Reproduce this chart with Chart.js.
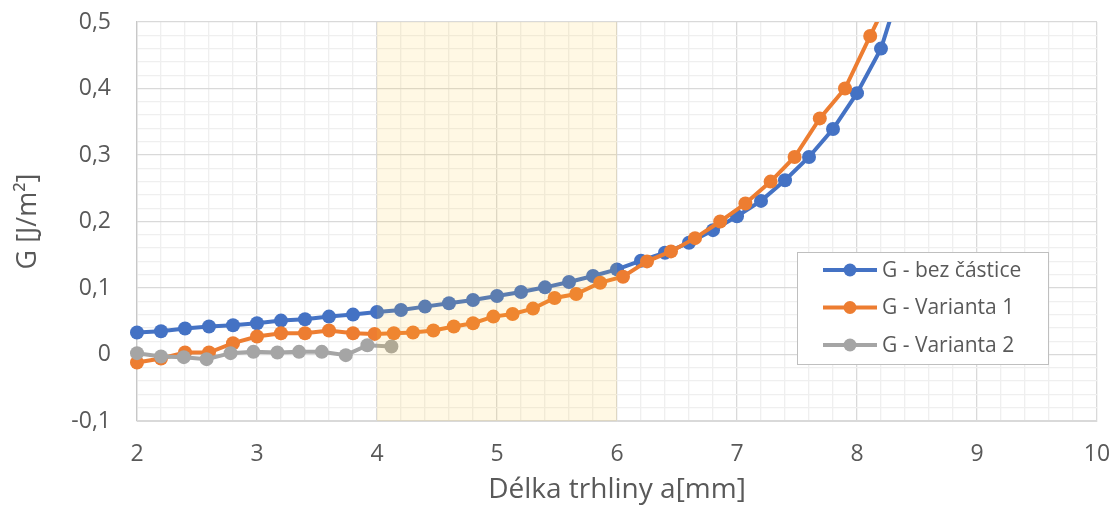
<!DOCTYPE html>
<html>
<head>
<meta charset="utf-8">
<script src="https://cdn.jsdelivr.net/npm/chart.js@4"></script>
<style>
  html, body { margin: 0; padding: 0; background: #ffffff; }
  #wrap { width: 1117px; height: 514px; position: relative; }
</style>
</head>
<body>
<div id="wrap"><canvas id="graf"></canvas></div>
<script>
// délka trhliny a [mm] a hodnoty G [J/m2] pro jednotlivé varianty
const aBezCastice = [2.0, 2.2, 2.4, 2.6, 2.8, 3.0, 3.2, 3.4, 3.6, 3.8, 4.0, 4.2, 4.4, 4.6, 4.8, 5.0,
  5.2, 5.4, 5.6, 5.8, 6.0, 6.2, 6.4, 6.6, 6.8, 7.0, 7.2, 7.4, 7.6, 7.8, 8.0, 8.2, 8.4];
const gBezCastice = [0.033, 0.035, 0.039, 0.042, 0.044, 0.047, 0.051, 0.053, 0.057, 0.060, 0.064,
  0.067, 0.072, 0.077, 0.082, 0.088, 0.094, 0.101, 0.109, 0.118, 0.128, 0.141, 0.153, 0.168, 0.187,
  0.208, 0.231, 0.262, 0.297, 0.339, 0.393, 0.460, 0.575];

const aVarianta1 = [2.0, 2.2, 2.4, 2.6, 2.8, 3.0, 3.2, 3.4, 3.6, 3.8, 3.98, 4.14, 4.3, 4.47, 4.64,
  4.8, 4.97, 5.13, 5.3, 5.48, 5.66, 5.86, 6.05, 6.25, 6.45, 6.65, 6.86, 7.07, 7.28, 7.48, 7.69,
  7.9, 8.11, 8.3];
const gVarianta1 = [-0.012, -0.006, 0.003, 0.003, 0.017, 0.027, 0.032, 0.032, 0.036, 0.032, 0.031,
  0.032, 0.033, 0.036, 0.042, 0.047, 0.057, 0.061, 0.069, 0.085, 0.091, 0.108, 0.117, 0.140, 0.155,
  0.175, 0.200, 0.227, 0.260, 0.297, 0.355, 0.400, 0.479, 0.550];

const aVarianta2 = [2.0, 2.2, 2.39, 2.58, 2.78, 2.97, 3.17, 3.35, 3.54, 3.74, 3.92, 4.12];
const gVarianta2 = [0.002, -0.003, -0.004, -0.007, 0.002, 0.004, 0.003, 0.004, 0.004, -0.001, 0.014, 0.012];

const nazvyRad = ["G - bez částice", "G - Varianta 1", "G - Varianta 2"];
const barvyRad = ["#4472C4", "#ED7D31", "#A5A5A5"];
const pasmo = [4, 6];

const TEXT = "#595959";
const FONT = "'Open Sans', sans-serif";

function body(xs, ys) {
  return xs.map((x, i) => ({ x: x, y: ys[i] }));
}

function celeCislo(v) {
  return Math.abs(v - Math.round(v)) < 1e-6;
}

function desetina(v) {
  return Math.abs(v * 10 - Math.round(v * 10)) < 1e-6;
}

// zvýrazněné pásmo 4–6 mm (poloprůhledné, přes křivky)
const pasmoPlugin = {
  id: "pasmo",
  afterDatasetsDraw(chart) {
    const { ctx, chartArea, scales } = chart;
    const x1 = scales.x.getPixelForValue(pasmo[0]);
    const x2 = scales.x.getPixelForValue(pasmo[1]);
    ctx.save();
    ctx.fillStyle = "rgba(255, 200, 50, 0.13)";
    ctx.fillRect(x1, chartArea.top, x2 - x1, chartArea.bottom - chartArea.top);
    ctx.restore();
  },
};

// legenda uvnitř grafu
const legendaPlugin = {
  id: "legenda",
  afterDraw(chart) {
    const ctx = chart.ctx;
    const left = 797, top = 252, w = 251, h = 112;
    ctx.save();
    ctx.fillStyle = "#ffffff";
    ctx.fillRect(left, top, w, h);
    ctx.strokeStyle = "#bfbfbf";
    ctx.lineWidth = 1;
    ctx.strokeRect(left + 0.5, top + 0.5, w, h);
    ctx.font = "21px " + FONT;
    ctx.textBaseline = "middle";
    ctx.textAlign = "left";
    nazvyRad.forEach((nazev, i) => {
      const y = top + 18 + i * 37.5;
      ctx.strokeStyle = barvyRad[i];
      ctx.lineWidth = 4;
      ctx.beginPath();
      ctx.moveTo(left + 26, y);
      ctx.lineTo(left + 80, y);
      ctx.stroke();
      ctx.fillStyle = barvyRad[i];
      ctx.beginPath();
      ctx.arc(left + 53, y, 6.5, 0, Math.PI * 2);
      ctx.fill();
      ctx.fillStyle = TEXT;
      ctx.fillText(nazev, left + 85, y + 1);
    });
    ctx.restore();
  },
};

function rada(i, xs, ys) {
  return {
    label: nazvyRad[i],
    data: body(xs, ys),
    borderColor: barvyRad[i],
    backgroundColor: barvyRad[i],
    borderWidth: 4,
    pointRadius: 7,
    pointBorderWidth: 0,
    pointHoverRadius: 7,
    tension: 0,
    order: 3 - i,
    clip: { left: 10, right: 10, top: 0, bottom: 10 },
  };
}

new Chart(document.getElementById("graf"), {
  type: "line",
  data: {
    datasets: [
      rada(0, aBezCastice, gBezCastice),
      rada(1, aVarianta1, gVarianta1),
      rada(2, aVarianta2, gVarianta2),
    ],
  },
  options: {
    responsive: true,
    maintainAspectRatio: false,
    animation: false,
    events: [],
    layout: { padding: { top: 22, right: 20, bottom: 0, left: 0 } },
    plugins: {
      legend: { display: false },
      tooltip: { enabled: false },
    },
    scales: {
      x: {
        type: "linear",
        min: 2,
        max: 10,
        afterFit: (s) => {
          s.height = 93;
          s.paddingLeft = 0;
          s.paddingRight = 0;
        },
        border: { color: "#d9d9d9", width: 1 },
        grid: {
          drawTicks: false,
          color: (c) => (celeCislo(c.tick.value) ? "#d9d9d9" : "#efefef"),
          lineWidth: 1.3,
        },
        ticks: {
          stepSize: 0.2,
          autoSkip: false,
          maxRotation: 0,
          minRotation: 0,
          padding: 20,
          color: TEXT,
          font: { family: FONT, size: 23 },
          callback: (v) => (celeCislo(v) ? String(Math.round(v)) : ""),
        },
        title: {
          display: true,
          text: "Délka trhliny a[mm]",
          color: TEXT,
          font: { family: FONT, size: 28 },
          padding: { top: 0, bottom: 7 },
        },
      },
      y: {
        min: -0.1,
        max: 0.5,
        afterFit: (s) => {
          s.width = 137;
          s.paddingTop = 0;
          s.paddingBottom = 0;
        },
        border: { color: "#c8c8c8", width: 1.3 },
        grid: {
          drawTicks: false,
          color: (c) => (desetina(c.tick.value) ? "#d9d9d9" : "#efefef"),
          lineWidth: 1.3,
        },
        ticks: {
          stepSize: 0.02,
          autoSkip: false,
          padding: 26,
          color: TEXT,
          font: { family: FONT, size: 23 },
          callback: (v) =>
            desetina(v) ? String(Math.round(v * 10) / 10).replace(".", ",") : "",
        },
        title: {
          display: true,
          text: "G [J/m²]",
          color: TEXT,
          font: { family: FONT, size: 27 },
          padding: { top: 12, bottom: 0 },
        },
      },
    },
  },
  plugins: [pasmoPlugin, legendaPlugin],
});
</script>
</body>
</html>
